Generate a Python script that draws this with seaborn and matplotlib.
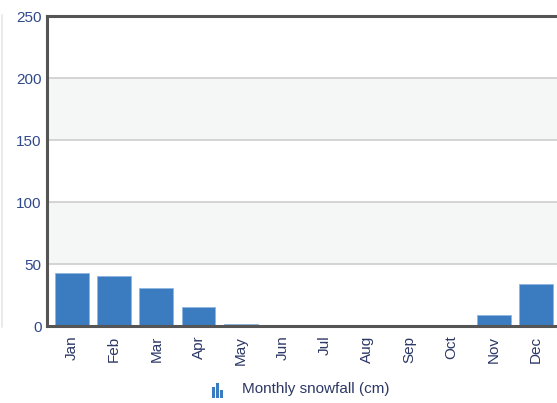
import matplotlib
matplotlib.use("Agg")
import matplotlib.pyplot as plt
from matplotlib.patches import Rectangle
from matplotlib.lines import Line2D
import pandas as pd
import seaborn as sns

months = ["Jan", "Feb", "Mar", "Apr", "May", "Jun",
          "Jul", "Aug", "Sep", "Oct", "Nov", "Dec"]
snowfall_cm = [42.7, 40.3, 30.9, 15.3, 2.0, 0.0,
               0.0, 0.0, 0.0, 1.0, 8.6, 33.6]
y_ticks = [0, 50, 100, 150, 200, 250]
series_name = "Monthly snowfall (cm)"

df = pd.DataFrame({"month": months, "snow": snowfall_cm})

sns.set_theme(style="white")
plt.rcParams["font.family"] = ["Liberation Sans", "DejaVu Sans"]

W, H = 557, 403
fig = plt.figure(figsize=(W / 100, H / 100), dpi=100)
ax = fig.add_axes([47 / W, 77 / H, 514 / W, 310 / H])
ax.set_facecolor("white")

bar_color = "#3b7bbf"
tick_color = "#30498a"
label_color = "#2c3866"

# alternating horizontal bands
for lo, hi in [(50, 100), (150, 200)]:
    ax.axhspan(lo, hi, facecolor="#f5f6f6", zorder=0, lw=0)
for y in y_ticks[1:-1]:
    ax.axhline(y, color="#d4d4d4", lw=1.4, zorder=1)

sns.barplot(data=df, x="month", y="snow", ax=ax, color=bar_color,
            saturation=1, width=0.8, edgecolor="#8fb6e0", linewidth=0.6,
            zorder=2)

ax.set_xlim(-0.59, 11.59)
ax.set_ylim(0, 250)
ax.set_yticks(y_ticks)
ax.set_yticklabels([str(v) for v in y_ticks], color=tick_color, fontsize=11)
ax.set_xticks(range(len(months)))
ax.set_xticklabels(months, rotation=90, color=label_color, fontsize=11)
ax.tick_params(axis="x", length=0, pad=7)
ax.tick_params(axis="y", length=0, pad=4)
ax.set_xlabel("")
ax.set_ylabel("")

for side in ["left", "bottom", "top"]:
    ax.spines[side].set_color("#555555")
    ax.spines[side].set_linewidth(2.2)
ax.spines["right"].set_visible(False)

# faint divider at far left
fig.add_artist(Line2D([2 / W, 2 / W], [1 - 15 / H, 1 - 327 / H],
                      color="#e6e6e6", lw=1.2, transform=fig.transFigure))

# legend: small bar-chart icon followed by the series name
icon = [(212, 11), (216, 15), (220, 8)]
for x0, h in icon:
    fig.add_artist(Rectangle((x0 / W, (H - 398) / H), 3 / W, h / H,
                             facecolor=bar_color, lw=0,
                             transform=fig.transFigure))
fig.text(242 / W, (H - 389) / H, series_name, color=label_color,
         fontsize=11, va="center", ha="left")

fig.savefig("out.png", dpi=100)
